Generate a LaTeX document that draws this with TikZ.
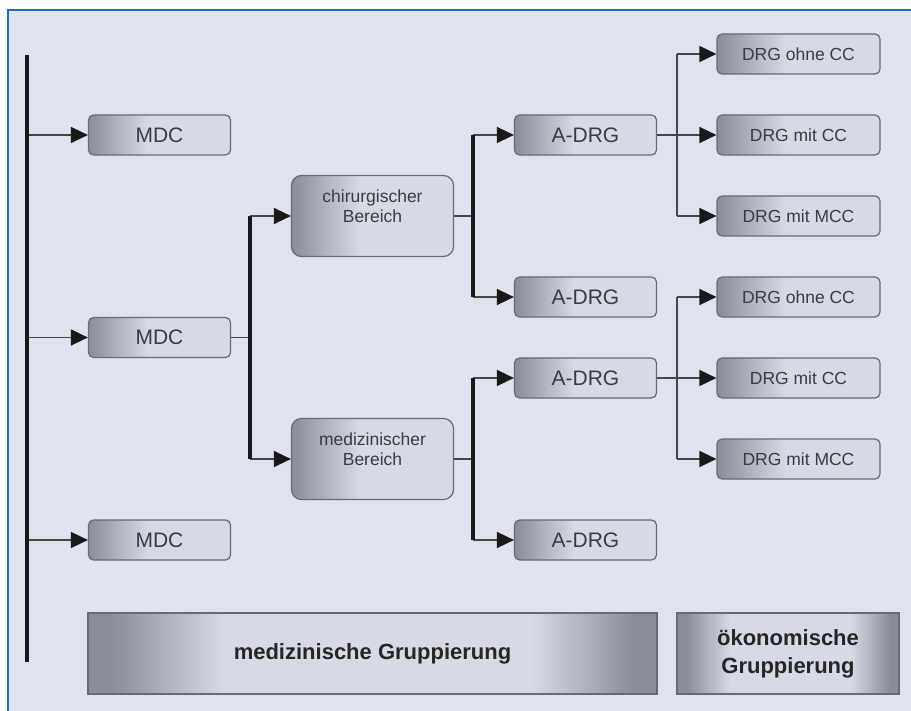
\documentclass[tikz,border=0pt]{standalone}
\usepackage{fontspec}
\setmainfont{Liberation Sans}
\usetikzlibrary{arrows.meta}
\definecolor{bgfill}{RGB}{223,227,239}
\definecolor{framecol}{RGB}{30,110,190}
\definecolor{boxdark}{RGB}{138,141,153}
\definecolor{boxlight}{RGB}{215,218,229}
\definecolor{boxline}{RGB}{105,105,110}
\definecolor{txtcol}{RGB}{60,60,62}
\definecolor{linkcol}{RGB}{70,70,72}
\pgfdeclarehorizontalshading{boxshade}{100bp}{color(0bp)=(boxdark); color(25bp)=(boxdark); color(46bp)=(boxlight); color(100bp)=(boxlight)}
\pgfdeclarehorizontalshading{barshade}{100bp}{color(0bp)=(boxdark); color(27bp)=(boxdark); color(37bp)=(boxlight); color(64bp)=(boxlight); color(73bp)=(boxdark); color(100bp)=(boxdark)}

\begin{document}
\begin{tikzpicture}[x=1pt, y=-1pt, node distance={81pt},
  box/.style = {draw=boxline, line width=1.2pt, rounded corners=5pt, shading=boxshade, text=txtcol, minimum width=142pt, minimum height=40pt, font=\fontsize{21}{25}\selectfont},
  drg/.style = {box, minimum width=163pt, font=\fontsize{17.5}{20}\selectfont},
  bereich/.style = {box, minimum width=162pt, minimum height=81pt, rounded corners=10pt, align=center, text depth=20pt, font=\fontsize{17.5}{20}\selectfont},
  gruppe/.style = {draw=boxline, line width=1.2pt, shading=barshade, text=black!85, minimum height=81pt, align=center, font=\bfseries\fontsize{22}{28}\selectfont},
  bar/.style = {line width=3.5pt, black!90},
  link/.style = {line width=1.5pt, linkcol},
  arr/.style = {link, -{Triangle[length=17pt, width=16pt, color=black!90]}}]
\useasboundingbox (0,0) rectangle (911,711);
\fill[white] (0,0) rectangle (911,711);
\fill[bgfill] (8,10) rectangle (911,711);
\draw[framecol, line width=1.2pt] (8,711) -- (8,10) -- (911,10);
\node[drg] (d1) at (798.5,54) {DRG ohne CC};
\node[drg] (d2) [below of=d1] {DRG mit CC};
\node[drg] (d3) [below of=d2] {DRG mit MCC};
\node[drg] (d4) [below of=d3] {DRG ohne CC};
\node[drg] (d5) [below of=d4] {DRG mit CC};
\node[drg] (d6) [below of=d5] {DRG mit MCC};
\node[box] (a1) [left of=d2, xshift=-132pt] {A-DRG};
\node[box] (a2) [left of=d4, xshift=-132pt] {A-DRG};
\node[box] (a3) [left of=d5, xshift=-132pt] {A-DRG};
\node[box] (a4) [below of=a3, yshift=-81pt] {A-DRG};
\node[bereich] (chir) [left of=d3, xshift=-345pt] {chirurgischer\\Bereich};
\node[bereich] (med) [left of=d6, xshift=-345pt] {medizinischer\\Bereich};
\node[box] (mdc1) [left of=a1, xshift=-345pt] {MDC};
\node[box] (mdc2) [left of=a2, xshift=-345pt, yshift=-40.5pt] {MDC};
\node[box] (mdc3) [left of=a4, xshift=-345pt] {MDC};
\node[gruppe, minimum width=569pt] (medgr) [below of=med, yshift=-113.5pt] {medizinische Gruppierung};
\node[gruppe, minimum width=222pt] (oekgr) [right of=medgr, xshift=334.5pt] {ökonomische\\Gruppierung};
\coordinate (lstart) at (27,55);
\coordinate (lend) at (27,662);
\path (mdc2.east) ++(19pt,0) coordinate (b2);
\path (chir.east) ++(19pt,0) coordinate (b3);
\path (med.east) ++(19pt,0) coordinate (b4);
\path (a1.east) ++(20pt,0) coordinate (b5);
\path (a3.east) ++(20pt,0) coordinate (b6);
\draw[arr] (mdc1 -| lstart) -- (mdc1);
\draw[arr] (mdc2 -| lstart) -- (mdc2);
\draw[arr] (mdc3 -| lstart) -- (mdc3);
\draw[bar, line width=4pt] (lstart) -- (lend);
\draw[link] (mdc2) -- (b2);
\draw[arr] (b2 |- chir) -- (chir);
\draw[arr] (b2 |- med) -- (med);
\draw[bar] (b2 |- chir) -- (b2 |- med);
\draw[link] (chir) -- (b3);
\draw[arr] (b3 |- a1) -- (a1);
\draw[arr] (b3 |- a2) -- (a2);
\draw[bar] (b3 |- a1) -- (b3 |- a2);
\draw[link] (med) -- (b4);
\draw[arr] (b4 |- a3) -- (a3);
\draw[arr] (b4 |- a4) -- (a4);
\draw[bar] (b4 |- a3) -- (b4 |- a4);
\draw[arr] (a1) -- (d2);
\draw[arr] (b5 |- d1) -- (d1);
\draw[arr] (b5 |- d3) -- (d3);
\draw[link, line width=2pt] (b5 |- d1) -- (b5 |- d3);
\draw[arr] (a3) -- (d5);
\draw[arr] (b6 |- d4) -- (d4);
\draw[arr] (b6 |- d6) -- (d6);
\draw[link, line width=2pt] (b6 |- d4) -- (b6 |- d6);
\end{tikzpicture}
\end{document}
